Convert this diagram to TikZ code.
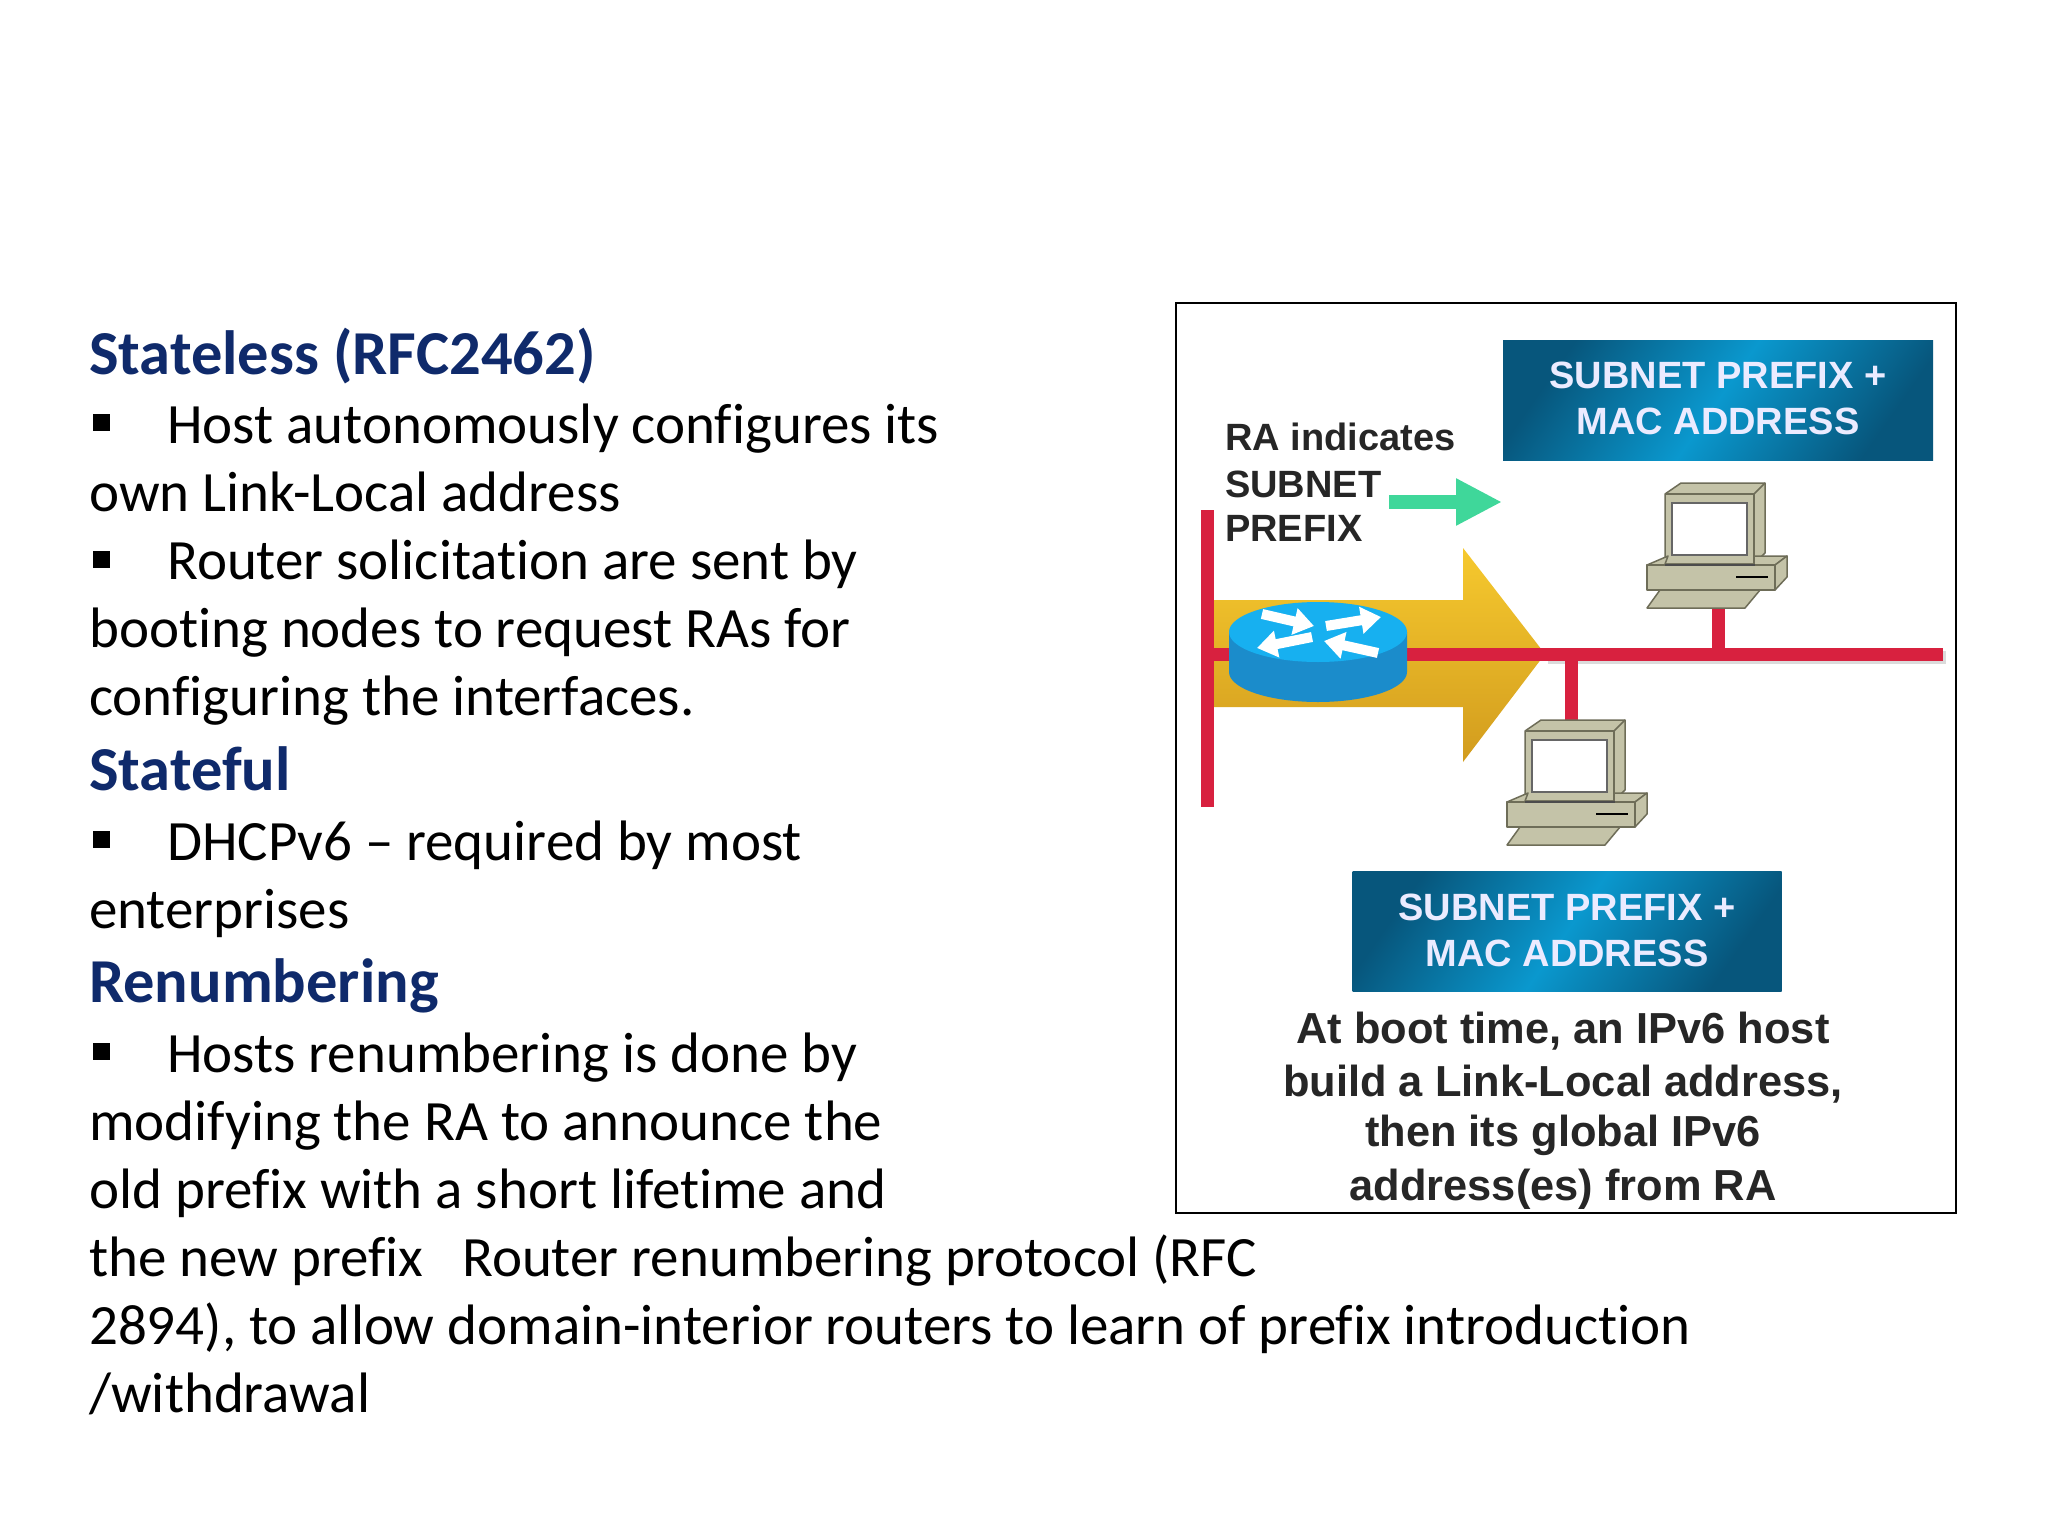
\documentclass[tikz,border=0pt]{standalone}
\usepackage{fontspec}
\setmainfont[Ligatures=NoCommon]{Carlito}
\newfontfamily\figfont{Liberation Sans}
\usetikzlibrary{arrows.meta}
\definecolor{headblue}{HTML}{0F2A6B}
\definecolor{netred}{HTML}{D8213F}
\definecolor{beige}{HTML}{C4C3A8}
\definecolor{beigedk}{HTML}{6E6D58}
\definecolor{routerA}{HTML}{1B8CCB}
\definecolor{routerB}{HTML}{17B0F0}
\definecolor{blueA}{HTML}{07567C}
\definecolor{blueB}{HTML}{0A98CE}
\definecolor{greenarrow}{HTML}{3FD79A}
\definecolor{goldA}{HTML}{F6C92E}
\definecolor{goldB}{HTML}{D29C1E}
\tikzset{
  x=1pt,y=-1pt,
  body/.style={anchor=base west,inner sep=0pt,font=\fontsize{57}{60}\selectfont,text=black},
  head/.style={anchor=base west,inner sep=0pt,font=\fontsize{62.5}{66}\selectfont\bfseries,text=headblue},
  bul/.style={fill=black,inner sep=0pt,minimum size=17pt,anchor=north west},
  figtext/.style={anchor=base west,inner sep=0pt,font=\fontsize{38}{40}\selectfont\figfont\bfseries,text=black!85},
  capline/.style={anchor=base,inner sep=0pt,font=\fontsize{43.4}{46}\selectfont\figfont\bfseries,text=black!85},
  bluebox/.style={inner sep=0pt,anchor=center,align=center,left color=blueA,right color=blueA,middle color=blueB,shading angle=55,
     text=white!92!blue,font=\fontsize{38}{45.5}\selectfont\figfont\bfseries},
  netline/.style={draw=netred,line width=13pt},
  netshadow/.style={draw=black!14,line width=13pt},
  pcpart/.style={draw=beigedk,line width=1.5pt,fill=beige,line join=round},
  pcbox/.pic={
    \draw[pcpart] (1665,494)--(1681,483)--(1765,483)--(1765,553)--(1754,564)--(1665,564)--cycle;
    \draw[pcpart] (1665,494)--(1754,494)--(1754,564);
    \draw[pcpart] (1754,494)--(1765,483);
    \draw[draw=black!60,line width=1.5pt,fill=white] (1672,503) rectangle (1747,555);
    \draw[pcpart] (1647,565)--(1668,556)--(1665,564)--(1754,564)--(1754,556)--(1787,556)--(1775,565)--cycle;
    \draw[pcpart] (1647,565)--(1775,565)--(1775,590)--(1647,590)--cycle;
    \draw[pcpart] (1775,565)--(1787,556)--(1787,577)--(1775,590)--cycle;
    \draw[draw=black,line width=2.2pt] (1736,577)--(1768,577);
    \draw[pcpart] (1660,590)--(1760,590)--(1745,608)--(1647,608)--cycle;
    \draw[draw=black!70,line width=2.2pt] (1665,565)--(1755,565);
  },
}
\begin{document}
\begin{tikzpicture}
\useasboundingbox (0,0) rectangle (2048,1536);
\fill[white] (0,0) rectangle (2048,1536);
% left text
\node[head] (t1) at (89,374) {Stateless (RFC2462)};
\node[bul] (b1) at (93,414) {};
\node[body] (t2) at (167,443.5) {Host autonomously configures its};
\node[body] (t3) at (89,511.5) {own Link-Local address};
\node[bul] (b2) at (93,551) {};
\node[body] (t4) at (167,579.5) {Router solicitation are sent by};
\node[body] (t5) at (89,647.5) {booting nodes to request RAs for};
\node[body] (t6) at (89,715.5) {configuring the interfaces.};
\node[head] (t7) at (89,790) {Stateful};
\node[bul] (b3) at (93,831) {};
\node[body] (t8) at (167,860.5) {DHCPv6 – required by most};
\node[body] (t9) at (89,928.5) {enterprises};
\node[head] (t10) at (89,1002) {Renumbering};
\node[bul] (b4) at (93,1043) {};
\node[body] (t11) at (167,1072.5) {Hosts renumbering is done by};
\node[body] (t12) at (89,1140.5) {modifying the RA to announce the};
\node[body] (t13) at (89,1208.5) {old prefix with a short lifetime and};
\node[body] (t14) at (89,1276.5) {the new prefix\hspace{39pt}Router renumbering protocol (RFC};
\node[body] (t15) at (89,1344.5) {2894), to allow domain-interior routers to learn of prefix introduction};
\node[body] (t16) at (89,1412.5) {/withdrawal};
% figure frame
\node[draw=black,line width=2pt,fill=white,inner sep=0pt,minimum width=780pt,minimum height=910pt,anchor=north west] (frame) at (1175,302) {};
% yellow arrow
\shade[top color=goldA,bottom color=goldB]
  (1207,600)--(1463,600)--(1463,548)--(1545,654)--(1463,762)--(1463,707)--(1207,707)--cycle;
% net lines
\coordinate (va) at (1207,510);
\coordinate (vb) at (1207,807);
\coordinate (ha) at (1207,654.5);
\coordinate (hc) at (1545,654.5);
\coordinate (hb) at (1943,654.5);
\coordinate (ua) at (1718,608);
\coordinate (ub) at (1718,654.5);
\coordinate (da) at (1571,654.5);
\coordinate (db) at (1571,722);
\draw[netshadow] ([shift={(3,3)}]hc)--([shift={(3,3)}]hb);
\draw[netline] (va)--(vb);
\draw[netline] (ha)--(hb);
\draw[netline] (ua)--(ub);
\draw[netline] (da)--(db);
% router
\fill[routerA] (1229,632) -- (1229,672) arc[start angle=180,end angle=360,x radius=89,y radius=-30] -- (1407,632) -- cycle;
\fill[routerB] (1318,632) ellipse[x radius=89,y radius=30];
\begin{scope}[white,line width=10pt,-{Triangle[width=26pt,length=20pt]}]
\draw (1262,614)--(1314,626);
\draw (1326,626)--(1381,617);
\draw (1312,637)--(1257,648);
\draw (1378,653)--(1324,641);
\end{scope}
% computers
\pic (pcone) at (0,0) {pcbox};
\pic (pctwo) at (-140,237) {pcbox};
% green arrow
\coordinate (ga) at (1389,502);
\coordinate (gb) at (1502,502);
\draw[draw=greenarrow,line width=14pt,-{Triangle[width=44pt,length=46pt]}] (ga)--(gb);
% labels
\node[figtext] (r1) at (1225,450) {RA indicates};
\node[figtext] (r2) at (1225,497) {SUBNET};
\node[figtext] (r3) at (1225,541) {PREFIX};
\node[bluebox,minimum width=430pt,minimum height=120pt] (boxa) at (1718,400) {SUBNET PREFIX +\\MAC ADDRESS\rule[-4pt]{0pt}{4pt}};
\node[bluebox,minimum width=429pt,minimum height=120pt] (boxb) at (1567,931) {SUBNET PREFIX +\\MAC ADDRESS\rule[-2pt]{0pt}{2pt}};
\node[capline] (c1) at (1563,1043) {At boot time, an IPv6 host};
\node[capline] (c2) at (1563,1096) {build a Link-Local address,};
\node[capline] (c3) at (1563,1146) {then its global IPv6};
\node[capline] (c4) at (1563,1200) {address(es) from RA};
\end{tikzpicture}
\end{document}
